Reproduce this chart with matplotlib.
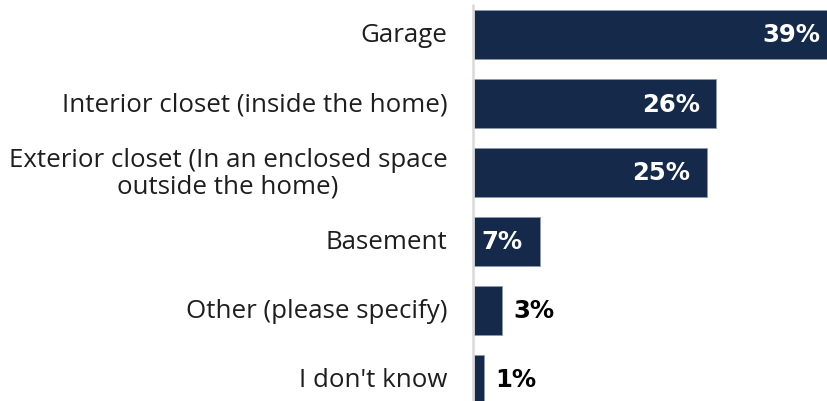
import matplotlib
matplotlib.use("Agg")
import matplotlib.pyplot as plt

categories = ["Garage", "Interior closet (inside the home)",
              "Exterior closet (In an enclosed space\noutside the home)",
              "Basement", "Other (please specify)", "I don't know"]
values = [39, 26, 25, 7, 3, 1]
value_labels = ["39%", "26%", "25%", "7%", "3%", "1%"]
inside = [True, True, True, True, False, False]

W, H = 828, 402
fig = plt.figure(figsize=(W / 100, H / 100), dpi=100)
ax_left = 474.5
px_per_unit = 9.3
ax = fig.add_axes([ax_left / W, 0, (W - ax_left) / W, 1])
pitch = 69.0
first_center = 35.5
ax.set_ylim((H - first_center) / pitch, -first_center / pitch)
ax.set_xlim(0, (W - ax_left) / px_per_unit)

bar_color = "#15294b"
ypos = list(range(len(categories)))
ax.barh(ypos, values, height=0.71, color=bar_color, edgecolor="#8a99b0", linewidth=0.6)

for spine in ax.spines.values():
    spine.set_visible(False)
ax.set_xticks([])
ax.set_yticks([])

# gray axis line
ax.plot([-1.6 / px_per_unit] * 2, [(H - first_center) / pitch, (5 - first_center) / pitch],
        color="#d9d9d9", lw=1.8, clip_on=False, solid_capstyle="butt")

for y, cat in zip(ypos, categories):
    ax.text(-27 / px_per_unit, y, cat, ha="right", va="center", multialignment="center",
            fontsize=18.6, color="#1e1e1e", family="Open Sans", linespacing=1.07)

for y, v, lab, ins in zip(ypos, values, value_labels, inside):
    if ins:
        ax.annotate(lab, (v, y), xytext=(-12, 0), textcoords="offset points",
                    ha="right", va="center", fontsize=17.5, fontweight="bold",
                    color="white", family="DejaVu Sans", annotation_clip=False)
    else:
        ax.annotate(lab, (v, y), xytext=(8, 0), textcoords="offset points",
                    ha="left", va="center", fontsize=17.5, fontweight="bold",
                    color="black", family="DejaVu Sans")

fig.savefig("out.png", dpi=100, facecolor="white")
